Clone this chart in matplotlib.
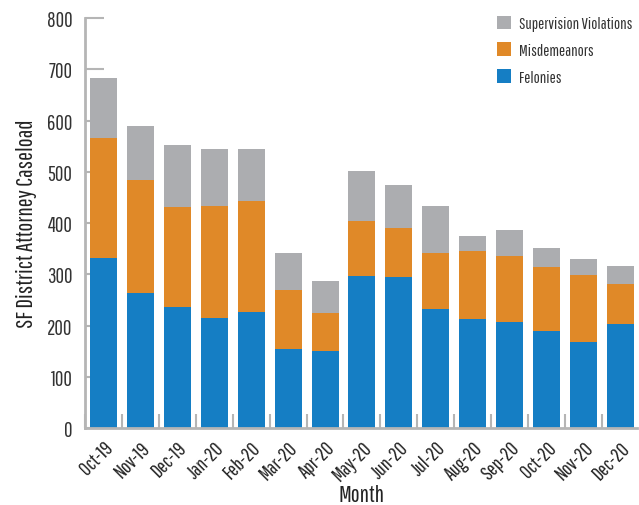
import numpy as np
import matplotlib.pyplot as plt
from matplotlib.ticker import FixedLocator

meses = ["Oct-19", "Nov-19", "Dec-19", "Jan-20", "Feb-20", "Mar-20", "Apr-20", "May-20",
         "Jun-20", "Jul-20", "Aug-20", "Sep-20", "Oct-20", "Nov-20", "Dec-20"]
felonies = [332, 263, 236, 215, 226, 154, 150, 297, 295, 232, 213, 207, 189, 168, 203]
misdemeanors = [234, 221, 195, 218, 217, 115, 74, 107, 95, 109, 132, 129, 125, 131, 78]
supervision = [117, 105, 121, 111, 101, 72, 63, 97, 84, 92, 30, 50, 37, 31, 35]

plt.rcParams['font.family'] = ['Pathway Gothic One', 'DejaVu Sans']

azul = "#157ec4"
naranja = "#e08928"
gris = "#acadb0"
eje = "#b5b5b5"

fig = plt.figure(figsize=(6.39, 5.06), dpi=100)
ax = fig.add_axes([0.133, 0.152, 0.864, 0.810])

x = np.arange(len(meses))
fel = np.array(felonies)
mis = np.array(misdemeanors)
sup = np.array(supervision)
ancho = 0.73
b1 = ax.bar(x, fel, ancho, color=azul, label="Felonies", zorder=2)
b2 = ax.bar(x, mis, ancho, bottom=fel, color=naranja, label="Misdemeanors", zorder=2)
b3 = ax.bar(x, sup, ancho, bottom=fel + mis, color=gris, label="Supervision Violations", zorder=2)

ax.set_xlim(-0.5, 14.45)
ax.set_ylim(0, 800)
ax.set_yticks(range(0, 801, 100))
ax.set_xticks(x)
ax.set_xticklabels(meses, rotation=45, ha="right", rotation_mode="anchor")
ax.xaxis.set_minor_locator(FixedLocator(np.arange(-0.5, 15, 1.0)))

for s in ["top", "right"]:
    ax.spines[s].set_visible(False)
for s in ["left", "bottom"]:
    ax.spines[s].set_color(eje)
    ax.spines[s].set_linewidth(2)

ax.tick_params(axis="y", direction="in", length=14, width=1.5, color=eje, labelsize=15,
               labelcolor="#333333", pad=9)
ax.tick_params(axis="x", which="major", length=0, labelsize=14.5, labelcolor="#222222", pad=7)
ax.tick_params(axis="x", which="minor", direction="in", length=10, width=1.5, color=eje)

ax.set_ylabel("SF District Attorney Caseload", fontsize=17, color="#222222", labelpad=7)
ax.set_xlabel("Month", fontsize=17, color="#222222", labelpad=0)

ax.legend(handles=[b3, b2, b1], loc="upper left", bbox_to_anchor=(490 / 639, 1 - 10 / 506),
          bbox_transform=fig.transFigure, frameon=False, borderaxespad=0, borderpad=0.4,
          fontsize=11.8, handlelength=0.9, handleheight=0.9, handletextpad=0.45,
          labelspacing=0.7, labelcolor="#333333")

plt.savefig("out.png", dpi=100)
